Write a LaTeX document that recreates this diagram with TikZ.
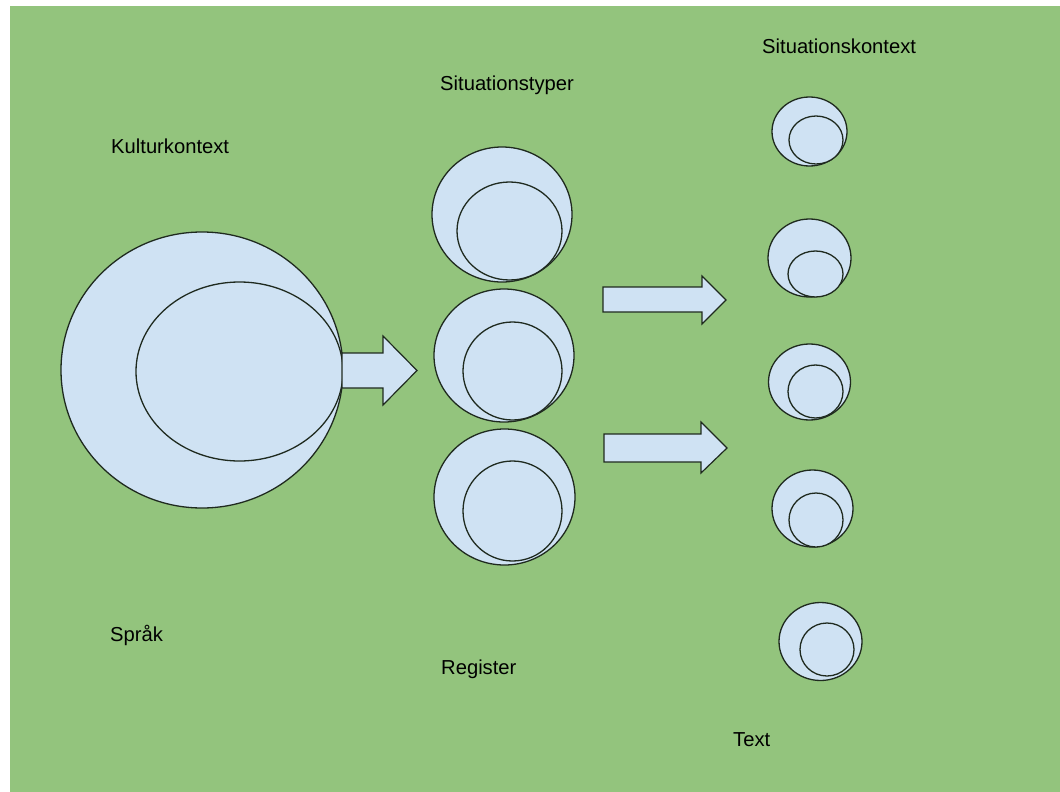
\documentclass[tikz,border=0pt]{standalone}
\usepackage{fontspec}
\setmainfont{Liberation Sans}
\usetikzlibrary{shapes.geometric}
\definecolor{bggreen}{HTML}{93C47D}
\definecolor{bubble}{HTML}{CFE2F3}
\definecolor{ink}{HTML}{1F2A1F}
\tikzset{
  bubblebox/.style={ellipse, draw=ink, fill=bubble, line width=1.3pt, inner sep=0pt},
  blockarrow/.style={draw=ink, fill=bubble, line width=1.2pt, line join=miter},
  label/.style={anchor=base west, inner sep=0pt, text=black, font=\fontsize{20.2}{24}\selectfont}
}
\begin{document}
\begin{tikzpicture}[x=1pt, y=-1pt]
\useasboundingbox (0,0) rectangle (1060,792);
\fill[white] (0,0) rectangle (1060,792);
\fill[bggreen] (10,6) rectangle (1060,792);

% culture context
\node[bubblebox, minimum width=282pt, minimum height=276pt] (kultur) at (202,370) {};
\node[bubblebox, minimum width=207pt, minimum height=179pt] (sprak) at (239.5,371.5) {};

% situation types
\node[bubblebox, minimum width=140pt, minimum height=135pt] (typA) at (502,214.5) {};
\node[bubblebox, minimum width=105pt, minimum height=98pt] (regA) at (509.5,231) {};
\node[bubblebox, minimum width=140pt, minimum height=133pt] (typB) at (504,355.5) {};
\node[bubblebox, minimum width=99pt, minimum height=98pt] (regB) at (512.5,371) {};
\node[bubblebox, minimum width=141pt, minimum height=136pt] (typC) at (504.5,497) {};
\node[bubblebox, minimum width=99pt, minimum height=100pt] (regC) at (512.5,511) {};

% situation contexts and texts
\node[bubblebox, minimum width=75pt, minimum height=69pt] (sitA) at (809.5,131.5) {};
\node[bubblebox, minimum width=54pt, minimum height=48pt] (txtA) at (816,140) {};
\node[bubblebox, minimum width=83pt, minimum height=78pt] (sitB) at (809.5,258) {};
\node[bubblebox, minimum width=55pt, minimum height=46pt] (txtB) at (815.5,274) {};
\node[bubblebox, minimum width=82pt, minimum height=76pt] (sitC) at (809.5,382) {};
\node[bubblebox, minimum width=55pt, minimum height=53pt] (txtC) at (815.5,391.5) {};
\node[bubblebox, minimum width=81pt, minimum height=77pt] (sitD) at (812.5,508.5) {};
\node[bubblebox, minimum width=54pt, minimum height=54pt] (txtD) at (816,520) {};
\node[bubblebox, minimum width=83pt, minimum height=78pt] (sitE) at (820.5,641.5) {};
\node[bubblebox, minimum width=54pt, minimum height=53pt] (txtE) at (827,649.5) {};

% block arrows
\draw[blockarrow] (342,353) -- (383,353) -- (383,336) -- (417,370.5) -- (383,405) -- (383,388) -- (342,388) -- cycle;
\draw[blockarrow] (603,287) -- (702,287) -- (702,276) -- (726,300) -- (702,324) -- (702,312) -- (603,312) -- cycle;
\draw[blockarrow] (604,434) -- (701,434) -- (701,422) -- (727,448) -- (701,473) -- (701,462) -- (604,462) -- cycle;

% captions
\node[label] (tKultur) at (111,153) {Kulturkontext};
\node[label] (tTyper) at (440,91) {Situationstyper};
\node[label] (tKontext) at (762,54) {Situationskontext};
\node[label] (tSprak) at (110,641) {Språk};
\node[label] (tRegister) at (441,674) {Register};
\node[label] (tText) at (733,746) {Text};
\end{tikzpicture}
\end{document}
